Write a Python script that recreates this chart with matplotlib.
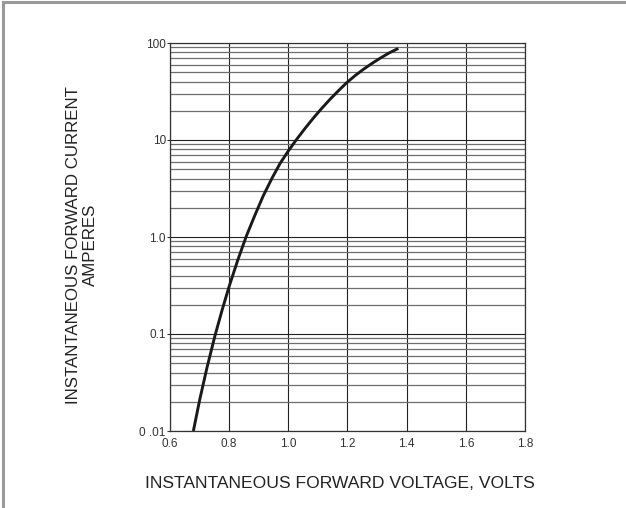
import numpy as np
import matplotlib.pyplot as plt
from matplotlib.lines import Line2D
from matplotlib.ticker import FixedLocator, NullFormatter

plt.rcParams['font.family'] = ['Liberation Sans', 'DejaVu Sans']

# forward voltage (V) vs forward current (A)
volts = [0.679, 0.700, 0.725, 0.752, 0.776, 0.800, 0.829, 0.858, 0.886, 0.915,
         0.945, 0.972, 1.000, 1.025, 1.055, 1.083, 1.110, 1.140, 1.168, 1.197,
         1.226, 1.254, 1.282, 1.310, 1.340, 1.372]
amps = [0.010, 0.0207, 0.045, 0.096, 0.176, 0.31, 0.577, 1.02, 1.65, 2.65,
        4.05, 5.73, 7.71, 9.87, 13.0, 16.6, 20.7, 26.1, 31.9, 38.9,
        46.2, 53.6, 61.4, 69.6, 78.8, 88.0]

x_ticks = [0.6, 0.8, 1.0, 1.2, 1.4, 1.6, 1.8]
x_labels = ['0.6', '0.8', '1.0', '1.2', '1.4', '1.6', '1.8']
y_ticks = [0.01, 0.1, 1.0, 10, 100]
y_labels = ['0 .01', '0.1', '1.0', '10', '100']

fig = plt.figure(figsize=(6.26, 5.08), dpi=100)
ax = fig.add_axes([170/626, 1-431/508, 355/626, 388/508])

ax.set_yscale('log')
ax.set_xlim(0.6, 1.8)
ax.set_ylim(0.01, 100)

# grid
minor = [m*10.0**e for e in range(-2, 2) for m in range(2, 10)]
ax.yaxis.set_minor_locator(FixedLocator(minor))
ax.yaxis.set_minor_formatter(NullFormatter())
ax.set_yticks(y_ticks)
ax.set_yticklabels(y_labels)
ax.set_xticks(x_ticks)
ax.set_xticklabels(x_labels)
ax.grid(True, which='major', color='#222222', lw=0.8)
ax.grid(True, which='minor', axis='y', color='#6e6e6e', lw=0.9)

ax.plot(volts, amps, color='#1a1a1a', lw=2.1, solid_capstyle='butt',
        solid_joinstyle='round', zorder=5)

for s in ax.spines.values():
    s.set_color('#333333')
    s.set_linewidth(0.9)

ax.tick_params(axis='x', length=0, pad=5, labelsize=8.5, labelcolor='#333333')
ax.tick_params(axis='y', which='major', length=2, pad=1, labelsize=8.5,
               labelcolor='#333333', color='#333333')
ax.tick_params(axis='y', which='minor', length=0)

fig.text(340/626, 1-483/508, 'INSTANTANEOUS FORWARD VOLTAGE, VOLTS',
         ha='center', va='center', fontsize=12.6, color='#222222')
fig.text(82/626, 1-245/508, 'INSTANTANEOUS FORWARD CURRENT\nAMPERES',
         ha='center', va='center', rotation=90, fontsize=12.2,
         color='#222222', multialignment='center', linespacing=1.1)

# grey frame on the top and left edges
fig.add_artist(Line2D([3/626, 3/626], [0, 1-2/508], transform=fig.transFigure,
                      color='#999999', lw=2.2))
fig.add_artist(Line2D([3/626, 1], [1-2/508, 1-2/508], transform=fig.transFigure,
                      color='#999999', lw=2.2))

fig.savefig('out.png', dpi=100)
